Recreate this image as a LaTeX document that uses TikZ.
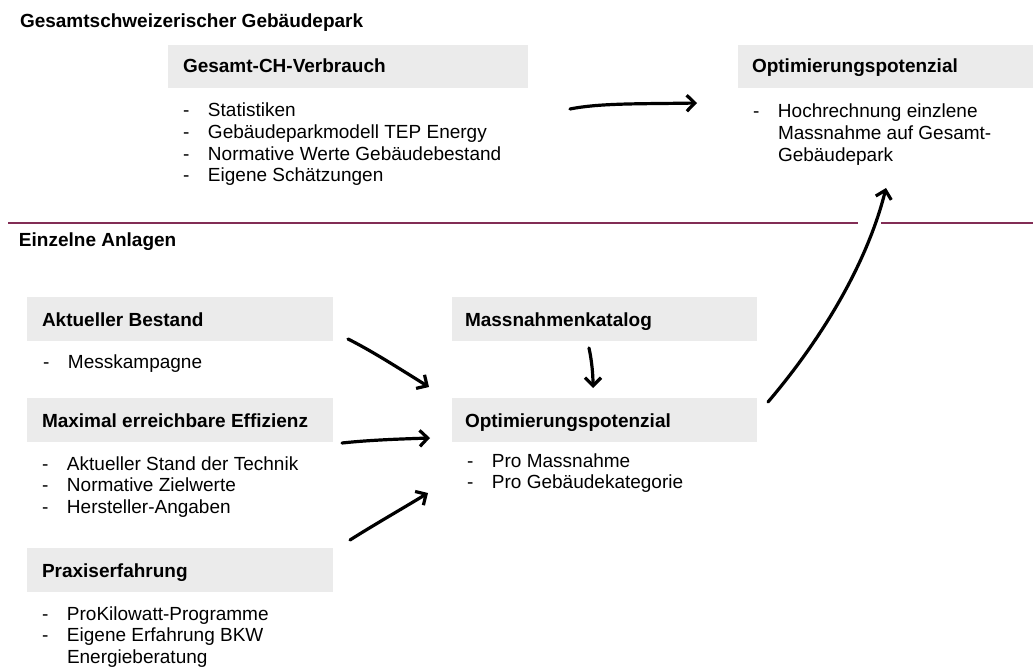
\documentclass[tikz,border=0pt]{standalone}
\usepackage{fontspec}
\setmainfont{Liberation Sans}
\usetikzlibrary{arrows.meta}
\definecolor{boxgray}{RGB}{235,235,235}
\definecolor{sepred}{RGB}{130,45,85}
\newcommand\myblist[1]{\begin{tabular}[t]{@{}p{25pt}@{}l@{}}#1\end{tabular}}
\begin{document}
\begin{tikzpicture}[x=1pt,y=-1pt,
  every node/.style={inner sep=0pt, outer sep=0pt},
  hbox/.style={fill=boxgray, anchor=north west, minimum height=43.5pt},
  htext/.style={anchor=base west, font=\fontsize{19}{21.6}\selectfont\bfseries},
  ltext/.style={anchor=base west, font=\fontsize{19}{21.6}\selectfont},
  handarrow/.style={line width=3.2pt, line cap=round, line join=round, -{Straight Barb[length=8pt,width=16pt]}},
  sepline/.style={draw=sepred, line width=1.2pt}]
\useasboundingbox (0,0) rectangle (1033,668);

% section titles
\node[htext] (title) at (20,28) {Gesamtschweizerischer Gebäudepark};
\node[htext] (einz) at (19,247) {Einzelne Anlagen};

% separator
\coordinate (s1) at (8,223);
\coordinate (s2) at (858,223);
\coordinate (s3) at (881,223);
\coordinate (s4) at (1033,223);
\draw[sepline] (s1) -- (s2);
\draw[sepline] (s3) -- (s4);

% upper boxes
\node[hbox, minimum width=360pt] (gesbox) at (168,45) {};
\node[htext] (gestext) at (183,73) {Gesamt-CH-Verbrauch};
\node[ltext] (geslist) at (183,117) {\myblist{- & Statistiken\\ - & Gebäudeparkmodell TEP Energy\\ - & Normative Werte Gebäudebestand\\ - & Eigene Schätzungen}};

\node[hbox, minimum width=295pt] (optbox) at (738,45) {};
\node[htext] (opttext) at (752,73) {Optimierungspotenzial};
\node[ltext] (optlist) at (753,118) {\myblist{- & Hochrechnung einzlene\\ & Massnahme auf Gesamt-\\ & Gebäudepark}};

% lower left boxes
\node[hbox, minimum width=306pt] (aktbox) at (27,297) {};
\node[htext] (akttext) at (42,326) {Aktueller Bestand};
\node[ltext] (aktlist) at (43,368) {\myblist{- & Messkampagne}};

\node[hbox, minimum width=306pt] (maxbox) at (27,398) {};
\node[htext] (maxtext) at (42,427) {Maximal erreichbare Effizienz};
\node[ltext] (maxlist) at (42,470) {\myblist{- & Aktueller Stand der Technik\\ - & Normative Zielwerte\\ - & Hersteller-Angaben}};

\node[hbox, minimum width=306pt] (prabox) at (27,548) {};
\node[htext] (pratext) at (42,577) {Praxiserfahrung};
\node[ltext] (pralist) at (42,620) {\myblist{- & ProKilowatt-Programme\\ - & Eigene Erfahrung BKW\\ & Energieberatung}};

% middle boxes
\node[hbox, minimum width=305pt] (katbox) at (452,297) {};
\node[htext] (kattext) at (465,326) {Massnahmenkatalog};

\node[hbox, minimum width=305pt] (mopbox) at (452,398) {};
\node[htext] (moptext) at (465,427) {Optimierungspotenzial};
\node[ltext] (moplist) at (467,467) {\myblist{- & Pro Massnahme\\ - & Pro Gebäudekategorie}};

% arrow end points
\coordinate (a1s) at (570,109);
\coordinate (a1e) at (697,103);
\coordinate (a2s) at (348,339);
\coordinate (a2e) at (429,387);
\coordinate (a3s) at (342,443);
\coordinate (a3e) at (430,438);
\coordinate (a4s) at (350,540);
\coordinate (a4e) at (428,493);
\coordinate (a5s) at (589,348);
\coordinate (a5e) at (593,388);
\coordinate (a6s) at (768,402);
\coordinate (a6e) at (886,188);

\draw[handarrow] (a1s) .. controls (600,103) and (640,104) .. (a1e);
\draw[handarrow] (a2s) .. controls (372,351) and (400,369) .. (a2e);
\draw[handarrow] (a3s) .. controls (370,440) and (400,439) .. (a3e);
\draw[handarrow] (a4s) .. controls (372,526) and (400,510) .. (a4e);
\draw[handarrow] (a5s) .. controls (592,362) and (593,375) .. (a5e);
\draw[handarrow] (a6s) .. controls (825,335) and (868,260) .. (a6e);
\end{tikzpicture}
\end{document}
